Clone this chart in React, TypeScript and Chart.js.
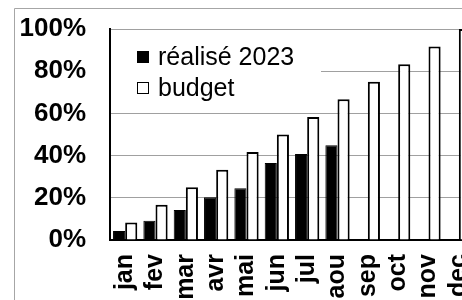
import React, { useEffect, useRef } from "react";
import { Chart, registerables } from "chart.js";

Chart.register(...registerables);

const categories = ["jan", "fev", "mar", "avr", "mai", "jun", "jul", "aou", "sep", "oct", "nov", "dec"];
const realise2023 = [4.3, 9.1, 14.2, 20.3, 24.5, 36.5, 40.7, 44.9, null, null, null, null];
const budget = [8.3, 16.7, 25, 33.3, 41.7, 50, 58.3, 66.7, 75, 83.3, 91.7, 100];
const yTicks = [0, 20, 40, 60, 80, 100];
const legendLabels = ["réalisé 2023", "budget"];

const FONT = "'Liberation Sans', Arial, sans-serif";
const CW = 490;
const CH = 330;

export default function App() {
  const ref = useRef<HTMLCanvasElement | null>(null);

  useEffect(() => {
    if (!ref.current) return;
    const frame = {
      id: "frameBorder",
      afterDraw(chart: any) {
        const ctx = chart.ctx;
        ctx.save();
        ctx.strokeStyle = "#a6a6a6";
        ctx.lineWidth = 1;
        ctx.beginPath();
        ctx.moveTo(14.5, chart.height);
        ctx.lineTo(14.5, 8.5);
        ctx.lineTo(chart.width, 8.5);
        ctx.stroke();
        ctx.restore();
      },
    };
    const legendBox = {
      id: "legendBox",
      afterDatasetsDraw(chart: any) {
        const ctx = chart.ctx;
        const a = chart.chartArea;
        ctx.save();
        ctx.fillStyle = "#ffffff";
        ctx.fillRect(a.left + 1, a.top + 1, 210, 82);
        ctx.font = "25px " + FONT;
        ctx.textBaseline = "middle";
        ctx.textAlign = "left";
        ctx.fillStyle = "#000000";
        ctx.fillRect(a.left + 27, a.top + 22, 12, 12);
        ctx.fillText(legendLabels[0], a.left + 48, a.top + 29);
        ctx.fillStyle = "#ffffff";
        ctx.fillRect(a.left + 27, a.top + 53, 12, 12);
        ctx.strokeStyle = "#000000";
        ctx.lineWidth = 1;
        ctx.strokeRect(a.left + 27.5, a.top + 53.5, 11, 11);
        ctx.fillStyle = "#000000";
        ctx.fillText(legendLabels[1], a.left + 48, a.top + 60);
        ctx.restore();
      },
    };

    const chart = new Chart(ref.current, {
      type: "bar",
      data: {
        labels: categories,
        datasets: [
          {
            label: legendLabels[0],
            data: realise2023 as any,
            backgroundColor: "#000000",
            borderColor: "#000000",
            borderWidth: 1,
            categoryPercentage: 0.8,
            barPercentage: 1,
          },
          {
            label: legendLabels[1],
            data: budget,
            backgroundColor: "#ffffff",
            borderColor: "#000000",
            borderWidth: 2,
            categoryPercentage: 0.8,
            barPercentage: 1,
          },
        ],
      },
      options: {
        responsive: true,
        maintainAspectRatio: false,
        animation: false,
        devicePixelRatio: 1,
        layout: { padding: { left: 0, top: 29, right: 16, bottom: 0 } },
        plugins: { legend: { display: false }, tooltip: { enabled: false } },
        scales: {
          x: {
            grid: { display: false, drawTicks: false },
            border: { display: true, color: "#000000", width: 2 },
            ticks: {
              autoSkip: false,
              maxRotation: 90,
              minRotation: 90,
              padding: 14,
              color: "#000000",
              font: { family: FONT, size: 25, weight: "bold" },
            },
            afterFit(scale: any) {
              scale.height = CH - 240;
              scale.paddingLeft = 0;
              scale.paddingRight = 0;
              scale.paddingTop = 0;
              scale.paddingBottom = 0;
            },
          },
          y: {
            min: 0,
            max: 100,
            afterBuildTicks(scale: any) {
              scale.ticks = yTicks.map((v) => ({ value: v }));
            },
            grid: { color: "#a0a0a0", lineWidth: 1, drawTicks: false },
            border: { display: true, color: "#000000", width: 2 },
            ticks: {
              padding: 24,
              color: "#000000",
              font: { family: FONT, size: 26, weight: "bold" },
              callback: (v: any) => v + "%",
            },
            afterFit(scale: any) {
              scale.width = 110;
              scale.paddingLeft = 0;
              scale.paddingRight = 0;
              scale.paddingTop = 0;
              scale.paddingBottom = 0;
            },
          },
        },
      },
      plugins: [frame, legendBox],
    });
    return () => chart.destroy();
  }, []);

  return (
    <div style={{ position: "fixed", left: 0, top: 0, width: CW, height: CH, background: "#fff" }}>
      <canvas ref={ref} />
    </div>
  );
}
